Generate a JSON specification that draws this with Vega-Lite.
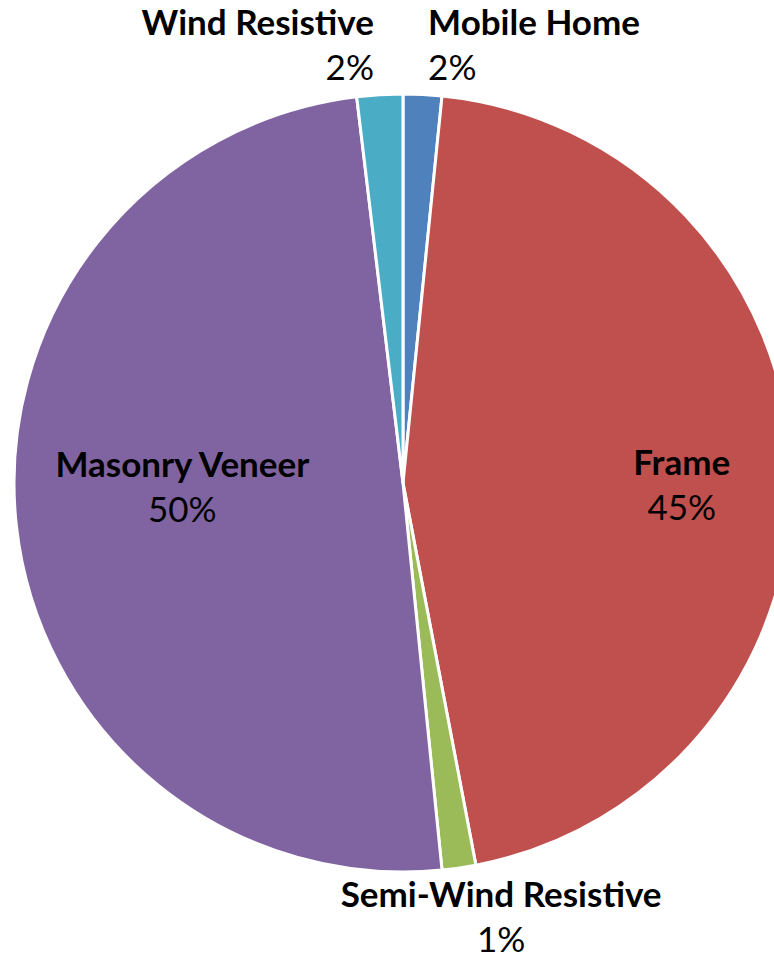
{
  "$schema": "https://vega.github.io/schema/vega-lite/v6.json",
  "width": 806,
  "height": 966,
  "autosize": {"type": "none"},
  "padding": 0,
  "background": "white",
  "view": {"stroke": null},
  "data": {
    "values": [
      {"category": "Mobile Home", "value": 1.6, "idx": 1},
      {"category": "Frame", "value": 45.4, "idx": 2},
      {"category": "Semi-Wind Resistive", "value": 1.4, "idx": 3},
      {"category": "Masonry Veneer", "value": 49.7, "idx": 4},
      {"category": "Wind Resistive", "value": 1.9, "idx": 5}
    ]
  },
  "transform": [
    {"calculate": "format(datum.value / 100, '.0%')", "as": "pct"}
  ],
  "encoding": {
    "theta": {"field": "value", "type": "quantitative", "stack": true},
    "order": {"field": "idx", "type": "quantitative"},
    "detail": {"field": "category", "type": "nominal"}
  },
  "layer": [
    {
      "mark": {"type": "arc", "radius": 389, "stroke": "white", "strokeWidth": 3},
      "encoding": {
        "color": {
          "field": "category",
          "type": "nominal",
          "legend": null,
          "scale": {
            "domain": ["Mobile Home", "Frame", "Semi-Wind Resistive", "Masonry Veneer", "Wind Resistive"],
            "range": ["#4F81BD", "#C0504D", "#9BBB59", "#8064A2", "#4BACC6"]
          }
        }
      }
    },
    {
      "mark": {"type": "text", "radius": 420, "align": "left", "dx": 4, "dy": -29, "font": "Lato", "fontSize": 35, "fontWeight": "bold", "baseline": "alphabetic", "color": "black"},
      "encoding": {"text": {"condition": {"test": "datum.category === 'Mobile Home'", "field": "category"}, "value": ""}}
    },
    {
      "mark": {"type": "text", "radius": 420, "align": "left", "dx": 4, "dy": 16, "font": "Lato", "fontSize": 35, "baseline": "alphabetic", "color": "black"},
      "encoding": {"text": {"condition": {"test": "datum.category === 'Mobile Home'", "field": "pct"}, "value": ""}}
    },
    {
      "mark": {"type": "text", "radius": 420, "align": "right", "dx": -4, "dy": -29, "font": "Lato", "fontSize": 35, "fontWeight": "bold", "baseline": "alphabetic", "color": "black"},
      "encoding": {"text": {"condition": {"test": "datum.category === 'Wind Resistive'", "field": "category"}, "value": ""}}
    },
    {
      "mark": {"type": "text", "radius": 420, "align": "right", "dx": -4, "dy": 16, "font": "Lato", "fontSize": 35, "baseline": "alphabetic", "color": "black"},
      "encoding": {"text": {"condition": {"test": "datum.category === 'Wind Resistive'", "field": "pct"}, "value": ""}}
    },
    {
      "mark": {"type": "text", "radius": 279, "align": "center", "dy": 4, "font": "Lato", "fontSize": 35, "fontWeight": "bold", "baseline": "alphabetic", "color": "black"},
      "encoding": {"text": {"condition": {"test": "datum.category === 'Frame'", "field": "category"}, "value": ""}}
    },
    {
      "mark": {"type": "text", "radius": 279, "align": "center", "dy": 49, "font": "Lato", "fontSize": 35, "baseline": "alphabetic", "color": "black"},
      "encoding": {"text": {"condition": {"test": "datum.category === 'Frame'", "field": "pct"}, "value": ""}}
    },
    {
      "mark": {"type": "text", "radius": 222, "align": "center", "dy": -30, "font": "Lato", "fontSize": 35, "fontWeight": "bold", "baseline": "alphabetic", "color": "black"},
      "encoding": {"text": {"condition": {"test": "datum.category === 'Masonry Veneer'", "field": "category"}, "value": ""}}
    },
    {
      "mark": {"type": "text", "radius": 222, "align": "center", "dy": 15, "font": "Lato", "fontSize": 35, "baseline": "alphabetic", "color": "black"},
      "encoding": {"text": {"condition": {"test": "datum.category === 'Masonry Veneer'", "field": "pct"}, "value": ""}}
    },
    {
      "mark": {"type": "text", "radius": 459, "align": "center", "dx": 32, "dy": -30, "font": "Lato", "fontSize": 35, "fontWeight": "bold", "baseline": "alphabetic", "color": "black"},
      "encoding": {"text": {"condition": {"test": "datum.category === 'Semi-Wind Resistive'", "field": "category"}, "value": ""}}
    },
    {
      "mark": {"type": "text", "radius": 459, "align": "center", "dx": 32, "dy": 15, "font": "Lato", "fontSize": 35, "baseline": "alphabetic", "color": "black"},
      "encoding": {"text": {"condition": {"test": "datum.category === 'Semi-Wind Resistive'", "field": "pct"}, "value": ""}}
    }
  ]
}
